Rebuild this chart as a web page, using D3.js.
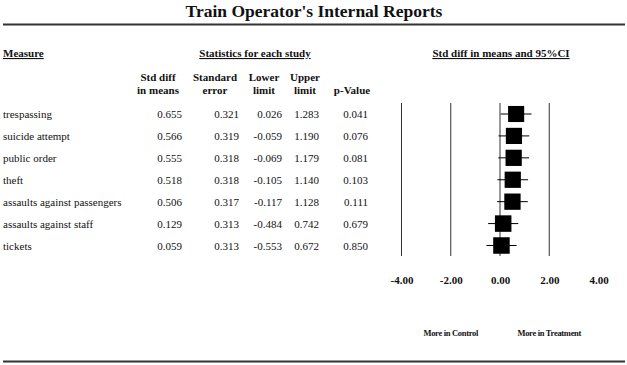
<!DOCTYPE html>
<html>
<head>
<meta charset="utf-8">
<script src="https://cdn.jsdelivr.net/npm/d3@7"></script>
<style>
  body { margin: 0; background: #fff; }
  svg { display: block; font-family: "Liberation Serif", "Times New Roman", serif; }
  svg text { font-family: "Liberation Serif", "Times New Roman", serif; }
</style>
</head>
<body>
<svg id="chart" width="627" height="365"></svg>
<script>
// Data
const measures = ['trespassing', 'suicide attempt', 'public order', 'theft',
  'assaults against passengers', 'assaults against staff', 'tickets'];
const stdDiff = [0.655, 0.566, 0.555, 0.518, 0.506, 0.129, 0.059];
const stdErr = [0.321, 0.319, 0.318, 0.318, 0.317, 0.313, 0.313];
const lowerLimit = [0.026, -0.059, -0.069, -0.105, -0.117, -0.484, -0.553];
const upperLimit = [1.283, 1.190, 1.179, 1.140, 1.128, 0.742, 0.672];
const pValue = [0.041, 0.076, 0.081, 0.103, 0.111, 0.679, 0.850];
const axisTicks = [-4, -2, 0, 2, 4];
const gridTicks = [-4, -2, 0, 2];

const svg = d3.select('#chart');
const ink = '#111';

// Title + rules
svg.append('text')
  .attr('x', 314).attr('y', 17)
  .attr('text-anchor', 'middle')
  .style('font-size', '17.5px').style('font-weight', 'bold').style('fill', ink)
  .text("Train Operator's Internal Reports");

svg.append('line').attr('x1', 3).attr('x2', 625).attr('y1', 24.5).attr('y2', 24.5)
  .attr('stroke', '#333').attr('stroke-width', 2);
svg.append('line').attr('x1', 3).attr('x2', 625).attr('y1', 361.5).attr('y2', 361.5)
  .attr('stroke', '#333').attr('stroke-width', 2);

// Section headers (underlined)
const headers = [
  { text: 'Measure', x: 3, anchor: 'start' },
  { text: 'Statistics for each study', x: 255, anchor: 'middle' },
  { text: 'Std diff in means and 95%CI', x: 501, anchor: 'middle' }
];
svg.selectAll('.section')
  .data(headers)
  .enter()
  .append('text')
  .attr('class', 'section')
  .attr('x', d => d.x).attr('y', 57)
  .attr('text-anchor', d => d.anchor)
  .style('font-size', '11px').style('font-weight', 'bold').style('fill', ink)
  .style('text-decoration', 'underline')
  .text(d => d.text);

// Columns
const columns = [
  { head: ['Std diff', 'in means'], hx: 158, vx: 182, values: stdDiff },
  { head: ['Standard', 'error'], hx: 215, vx: 239, values: stdErr },
  { head: ['Lower', 'limit'], hx: 264, vx: 282, values: lowerLimit },
  { head: ['Upper', 'limit'], hx: 305, vx: 319, values: upperLimit },
  { head: ['', 'p-Value'], hx: 352, vx: 368, values: pValue }
];

const y = d3.scalePoint()
  .domain(measures)
  .range([114, 245.5]);

columns.forEach(col => {
  col.head.forEach((h, i) => {
    svg.append('text')
      .attr('x', col.hx).attr('y', 81 + i * 13)
      .attr('text-anchor', 'middle')
      .style('font-size', '11px').style('font-weight', 'bold').style('fill', ink)
      .text(h);
  });
  svg.selectAll(null)
    .data(col.values)
    .enter()
    .append('text')
    .attr('x', col.vx)
    .attr('y', (d, i) => y(measures[i]) + 4)
    .attr('text-anchor', 'end')
    .style('font-size', '11px').style('fill', ink)
    .text(d => d3.format('.3f')(d).replace('−', '-'));
});

svg.selectAll('.measure')
  .data(measures)
  .enter()
  .append('text')
  .attr('class', 'measure')
  .attr('x', 3)
  .attr('y', d => y(d) + 4)
  .style('font-size', '11px').style('fill', ink)
  .text(d => d);

// Forest plot
const x = d3.scaleLinear().domain([-4, 4]).range([401.5, 598.5]);

svg.selectAll('.grid')
  .data(gridTicks)
  .enter()
  .append('line')
  .attr('class', 'grid')
  .attr('x1', d => x(d)).attr('x2', d => x(d))
  .attr('y1', 103).attr('y2', 256)
  .attr('stroke', '#333').attr('stroke-width', 1);

const rows = measures.map((m, i) => ({
  m, est: stdDiff[i], lo: lowerLimit[i], hi: upperLimit[i], w: 1 / (stdErr[i] * stdErr[i])
}));
const size = d3.scaleSqrt()
  .domain([0, d3.max(rows, d => d.w)])
  .range([0, 16.5]);

svg.selectAll('.ci')
  .data(rows)
  .enter()
  .append('line')
  .attr('class', 'ci')
  .attr('x1', d => x(d.lo)).attr('x2', d => x(d.hi))
  .attr('y1', d => y(d.m)).attr('y2', d => y(d.m))
  .attr('stroke', '#000').attr('stroke-width', 1);

svg.selectAll('.box')
  .data(rows)
  .enter()
  .append('rect')
  .attr('class', 'box')
  .attr('x', d => x(d.est) - size(d.w) / 2)
  .attr('y', d => y(d.m) - size(d.w) / 2)
  .attr('width', d => size(d.w))
  .attr('height', d => size(d.w))
  .attr('fill', '#000');

// Axis labels
const xAxis = d3.axisBottom(x)
  .tickValues(axisTicks)
  .tickSize(0)
  .tickPadding(0)
  .tickFormat(d => d3.format('.2f')(d).replace('−', '-'));

const axisG = svg.append('g')
  .attr('transform', 'translate(0, 276)')
  .call(xAxis)
  .attr('font-family', null)
  .attr('font-size', null);
axisG.select('.domain').remove();
axisG.selectAll('text')
  .style('font-size', '11px').style('font-weight', 'bold').style('fill', ink);

// Direction labels
const sides = [
  { text: 'More in Control', v: -2 },
  { text: 'More in Treatment', v: 2 }
];
svg.selectAll('.side')
  .data(sides)
  .enter()
  .append('text')
  .attr('class', 'side')
  .attr('x', d => x(d.v)).attr('y', 336)
  .attr('text-anchor', 'middle')
  .style('font-size', '8.5px').style('font-weight', 'bold').style('fill', ink)
  .style('letter-spacing', '-0.3px')
  .text(d => d.text);
</script>
</body>
</html>
